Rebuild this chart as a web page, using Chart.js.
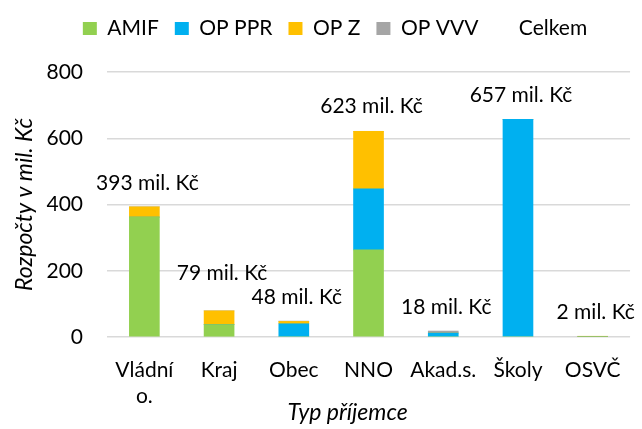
<!DOCTYPE html>
<html><head><meta charset="utf-8">
<script src="https://cdn.jsdelivr.net/npm/chart.js@4/dist/chart.umd.min.js"></script>
<style>html,body{margin:0;padding:0;background:#fff;} #wrap{width:642px;height:429px;}</style>
</head><body><div id="wrap"><canvas id="c" width="642" height="429"></canvas></div>
<script>
const categories = [['Vládní', 'o.'], 'Kraj', 'Obec', 'NNO', 'Akad.s.', 'Školy', 'OSVČ'];
const amif   = [362, 37, 0, 263, 0, 0, 0];
const opPpr  = [0, 0, 40, 184, 12, 657, 0];
const opZ    = [31, 42, 7, 174, 0, 0, 2];
const opVvv  = [0, 0, 1, 0, 6, 0, 0];
const celkem = [393, 79, 48, 623, 18, 657, 2];
const yTickValues = [0, 200, 400, 600, 800];
const labelSuffix = ' mil. Kč';
const xTitle = 'Typ příjemce';
const yTitle = 'Rozpočty v mil. Kč';

const FONT = 'Lato';
const FS = 21;
const TFS = 23;
const TXT = '#000000';

const legendTweak = {
  id: 'legendTweak',
  beforeInit(chart) {
    const lg = chart.legend;
    const orig = lg.fit;
    lg.fit = function () { orig.call(this); this.height += 23; };
  },
  afterLayout(chart, args, opts) {
    chart.legend.left += opts.shift;
    chart.legend.right += opts.shift;
  }
};

const xTitlePlugin = {
  id: 'xTitlePlugin',
  afterDraw(chart, args, opts) {
    const ctx = chart.ctx;
    const a = chart.chartArea;
    ctx.save();
    ctx.font = 'italic ' + TFS + 'px ' + FONT;
    ctx.fillStyle = TXT;
    ctx.textAlign = 'center';
    ctx.textBaseline = 'middle';
    ctx.fillText(xTitle, (a.left + a.right) / 2 + opts.dx, chart.height - opts.fromBottom);
    ctx.restore();
  }
};

const totalLabels = {
  id: 'totalLabels',
  afterDatasetsDraw(chart, args, opts) {
    const meta = chart.getDatasetMeta(4);
    const ctx = chart.ctx;
    ctx.save();
    ctx.font = FS + 'px ' + FONT;
    ctx.fillStyle = TXT;
    ctx.textAlign = 'center';
    ctx.textBaseline = 'middle';
    meta.data.forEach((pt, i) => {
      const lift = opts.lift + (opts.extraLift[i] || 0);
      ctx.fillText(celkem[i] + labelSuffix, pt.x + opts.dx, pt.y - lift);
    });
    ctx.restore();
  }
};

new Chart(document.getElementById('c'), {
  data: {
    labels: categories,
    datasets: [
      { type: 'bar', label: 'AMIF', data: amif, backgroundColor: '#92D050' },
      { type: 'bar', label: 'OP PPR', data: opPpr, backgroundColor: '#00B0F0' },
      { type: 'bar', label: 'OP Z', data: opZ, backgroundColor: '#FFC000' },
      { type: 'bar', label: 'OP VVV', data: opVvv, backgroundColor: '#A5A5A5' },
      { type: 'line', label: 'Celkem', data: celkem, showLine: false, pointRadius: 0,
        borderColor: 'rgba(0,0,0,0)', backgroundColor: 'rgba(0,0,0,0)' }
    ]
  },
  options: {
    responsive: false,
    animation: false,
    devicePixelRatio: 1,
    layout: { padding: { top: 2, right: 6, left: 0, bottom: 0 } },
    datasets: { bar: { barThickness: 30 } },
    plugins: {
      tooltip: { enabled: false },
      legendTweak: { shift: 17 },
      xTitlePlugin: { dx: -21, fromBottom: 16 },
      totalLabels: { lift: 24, dx: 3, extraLift: [0, 14, 0, 0, 0, 0, 0] },
      legend: {
        position: 'top',
        labels: {
          font: { family: FONT, size: FS },
          color: TXT,
          boxWidth: 14, boxHeight: 13,
          padding: 16,
          generateLabels(chart) {
            return chart.data.datasets.map((ds, i) => ({
              text: ds.label,
              fillStyle: ds.type === 'line' ? 'rgba(0,0,0,0)' : ds.backgroundColor,
              strokeStyle: 'rgba(0,0,0,0)',
              lineWidth: 0,
              fontColor: TXT,
              hidden: false,
              datasetIndex: i
            }));
          }
        }
      }
    },
    scales: {
      x: {
        stacked: true,
        grid: { display: false, drawTicks: false },
        border: { display: false },
        ticks: { font: { family: FONT, size: FS }, color: TXT, padding: 21, maxRotation: 0, autoSkip: false },
        title: { display: false },
        afterFit(s) { s.height = 92; }
      },
      y: {
        stacked: true,
        min: 0, max: 800,
        afterBuildTicks(s) { s.ticks = yTickValues.map(v => ({ value: v })); },
        grid: { color: '#D9D9D9', lineWidth: 1.5, drawTicks: false },
        border: { display: false },
        ticks: { font: { family: FONT, size: FS }, color: TXT, padding: 24 },
        title: { display: true, text: yTitle, font: { family: FONT, size: TFS, style: 'italic' }, color: TXT, padding: { top: 11, bottom: 0 } },
        afterFit(s) { s.width = 107; }
      }
    }
  },
  plugins: [legendTweak, xTitlePlugin, totalLabels]
});
</script>
</body></html>
